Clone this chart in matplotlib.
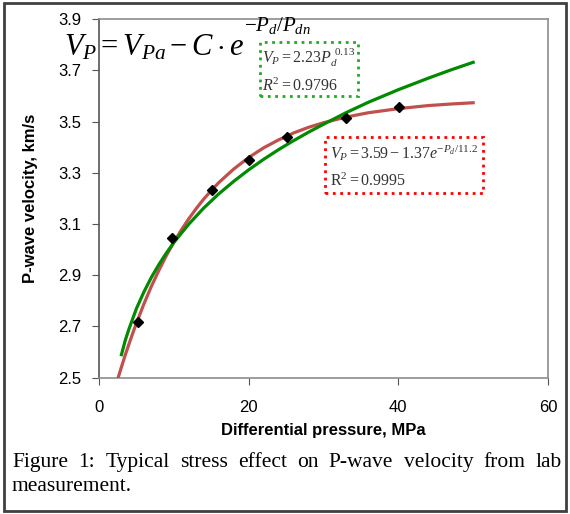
import numpy as np
import matplotlib.pyplot as plt
from matplotlib.patches import Rectangle

# measured points
p_meas = [5.2, 9.8, 15.1, 20.1, 25.1, 33.0, 40.1]
v_meas = [2.716, 3.045, 3.232, 3.349, 3.439, 3.513, 3.556]

# exponential fit curve (red)
p_red = [2.6, 3, 3.5, 4, 4.5, 5, 6, 7, 8, 9, 10, 11, 12, 13, 14, 15, 16, 18,
         20, 22, 24, 26, 28, 30, 33, 36, 40, 44, 47, 50]
v_red = [2.504, 2.542, 2.588, 2.631, 2.673, 2.713, 2.788, 2.857, 2.919, 2.977,
         3.029, 3.077, 3.121, 3.161, 3.198, 3.231, 3.262, 3.315, 3.360, 3.398,
         3.429, 3.456, 3.478, 3.496, 3.518, 3.535, 3.551, 3.563, 3.569, 3.574]

# power fit curve (green)
p_grn = [3, 3.5, 4, 4.5, 5, 6, 7, 8, 9, 10, 12, 14, 16, 18, 20, 22, 24, 26,
         28, 30, 33, 36, 40, 44, 47, 50]
v_grn = [2.59, 2.645, 2.69, 2.73, 2.77, 2.835, 2.892, 2.942, 2.987, 3.028,
         3.10, 3.163, 3.218, 3.267, 3.312, 3.353, 3.391, 3.426, 3.459, 3.49,
         3.535, 3.576, 3.625, 3.67, 3.702, 3.732]

x_ticks = [0, 20, 40, 60]
y_ticks = [2.5, 2.7, 2.9, 3.1, 3.3, 3.5, 3.7, 3.9]

caption1 = "Figure 1: Typical stress effect on P-wave velocity from lab"
caption2 = "measurement."

plt.rcParams['mathtext.fontset'] = 'custom'
plt.rcParams['mathtext.rm'] = 'Liberation Serif'
plt.rcParams['mathtext.it'] = 'Liberation Serif:italic'

fig = plt.figure(figsize=(5.7, 5.14), dpi=100)
ax = fig.add_axes([99/570, 1-377.7/514, 449/570, 358.4/514])

ax.plot(p_red, v_red, color='#c0504d', lw=2.3, zorder=3)
ax.plot(p_grn, v_grn, color='#008a00', lw=2.3, zorder=4)
ax.plot(p_meas, v_meas, 'D', color='black', ms=5, zorder=5)

ax.set_xlim(0, 60)
ax.set_ylim(2.5, 3.9)
ax.set_xticks(x_ticks)
ax.set_yticks(y_ticks)
ax.set_yticklabels(['%.1f' % v for v in y_ticks])
for s in ['top', 'right', 'bottom']:
    ax.spines[s].set_color('#8c8c8c')
    ax.spines[s].set_linewidth(1.2)
ax.spines['left'].set_color('#555555')
ax.spines['left'].set_linewidth(1.2)
ax.tick_params(axis='both', direction='out', length=5, color='#555555',
               labelsize=12)
ax.tick_params(axis='x', pad=11)
ax.tick_params(axis='y', pad=8)
for lab in ax.get_xticklabels() + ax.get_yticklabels():
    lab.set_family('Liberation Sans')
ax.set_xlabel('Differential pressure, MPa', fontsize=12, fontweight='bold',
              family='Liberation Sans', labelpad=6)
ax.set_ylabel('P-wave velocity, km/s', fontsize=12, fontweight='bold',
              family='Liberation Sans', labelpad=14)

# big model equation, exponent set separately and raised
fig.text(64/570, 1-55/514, r'$V_P = V_{Pa} - C\cdot e$',
         fontsize=22, va='baseline', ha='left')
fig.text(244/570, 1-31/514, r'$-P_d/P_{dn}$',
         fontsize=15, va='baseline', ha='left')

# fit labels
ax.text(0.364, 0.922, r'$V_P = 2.23P_d^{\ 0.13}$' + '\n' + r'$R^2 = 0.9796$',
        transform=ax.transAxes, fontsize=11.5,
        va='top', ha='left', linespacing=1.5, color='#333333', zorder=6,
        bbox=dict(boxstyle='square,pad=0.15', fc='white', ec='#22aa22',
                  ls=':', lw=2))
ax.text(0.515, 0.655,
        r'$V_P = 3.59 - 1.37e^{-P_d/11.2}$' + '\n' + r'$\mathrm{R}^2 = 0.9995$',
        transform=ax.transAxes, fontsize=11.5,
        va='top', ha='left', linespacing=1.6, color='#333333', zorder=6,
        bbox=dict(boxstyle='square,pad=0.3', fc='white', ec='red',
                  ls=':', lw=2))

# caption, first line justified
fig.canvas.draw()
r = fig.canvas.get_renderer()
words = caption1.split(' ')
left, right = 12, 562
objs = [fig.text(0, 1-467/514, w, fontsize=15.5, family='Liberation Serif',
                 va='baseline') for w in words]
widths = [o.get_window_extent(r).width for o in objs]
gap = (right - left - sum(widths)) / (len(words) - 1)
x = left
for o, w in zip(objs, widths):
    o.set_x(x/570)
    x += w + gap
fig.text(12/570, 1-491/514, caption2, fontsize=15.5, family='Liberation Serif',
         va='baseline')

fig.patches.append(Rectangle((4/570, 3/514), 562/570, 508/514, fill=False,
                             ec='#404040', lw=2, transform=fig.transFigure))

fig.savefig('out.png', dpi=100)
